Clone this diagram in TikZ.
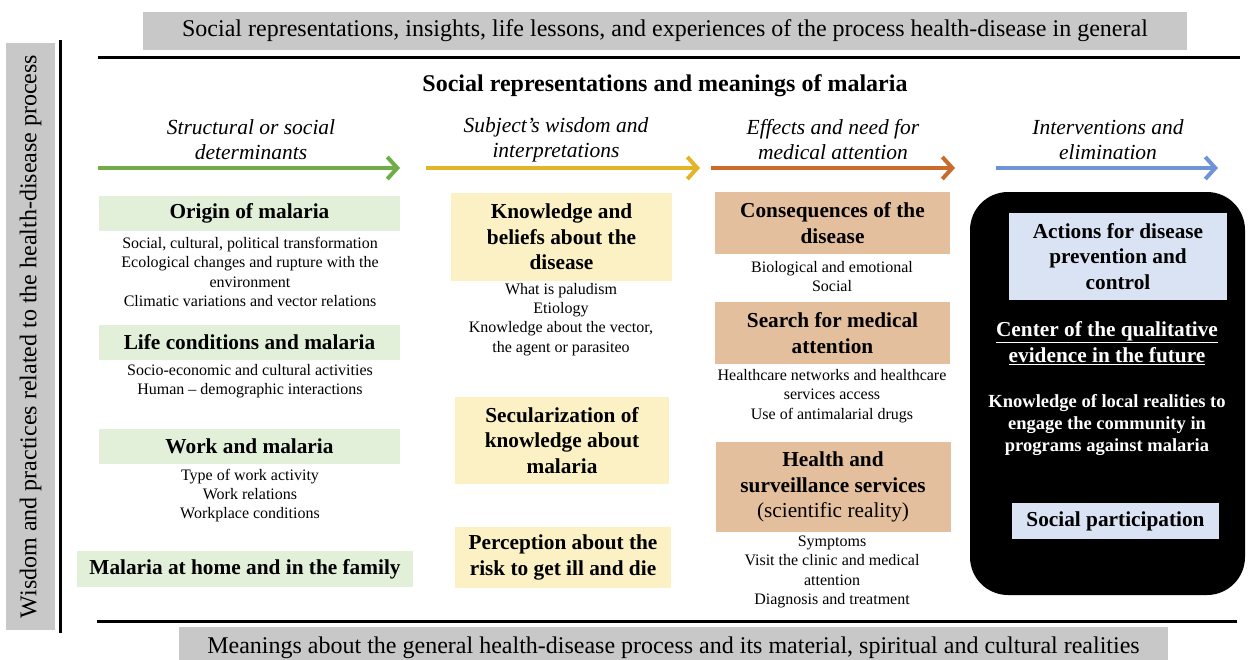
\documentclass[tikz,border=0pt]{standalone}
\usepackage{fontspec}
\setmainfont{Liberation Serif}
\usepackage[usenames,dvipsnames]{xcolor}
\usepackage{tikz}
\usetikzlibrary{arrows.meta}
\definecolor{bargray}{RGB}{200,200,200}
\definecolor{gboxc}{RGB}{226,239,217}
\definecolor{yboxc}{RGB}{251,241,196}
\definecolor{oboxc}{RGB}{228,191,158}
\definecolor{bboxc}{RGB}{218,227,243}
\definecolor{garrow}{RGB}{112,173,71}
\definecolor{yarrow}{RGB}{228,180,40}
\definecolor{oarrow}{RGB}{200,107,45}
\definecolor{barrow}{RGB}{112,146,214}
\newcommand{\bodytxt}{\fontsize{16}{19.3}\selectfont}
\newcommand{\headtxt}{\fontsize{21.3}{25.5}\selectfont\bfseries}
\newcommand{\labtxt}{\fontsize{21.5}{25}\selectfont\itshape}
\newcommand{\bartxt}{\fontsize{24}{28}\selectfont}

\begin{document}
\begin{tikzpicture}[x=1pt,y=-1pt,
  txt/.style={font=\bodytxt,align=center,inner sep=0pt},
  hdr/.style={font=\headtxt,align=center,inner sep=0pt},
  lab/.style={font=\labtxt,align=center,inner sep=0pt},
  gbox/.style={hdr,fill=gboxc,minimum width=301pt,minimum height=35pt},
  ybox/.style={hdr,fill=yboxc},
  obox/.style={hdr,fill=oboxc,minimum width=235pt},
  bbox/.style={hdr,fill=bboxc},
  band/.style={font=\bartxt,fill=bargray,inner sep=0pt},
  rule/.style={line width=3pt},
  flow/.style={line width=4pt,-{Straight Barb[length=10pt,width=22pt]}}]
  \useasboundingbox (0,0) rectangle (1248,659);

  % frame
  \node [band,minimum width=1044pt,minimum height=38pt] (top) at (665,31)
    {Social representations, insights, life lessons, and experiences of the process health-disease in general};
  \node [band,minimum width=989pt,minimum height=42pt,anchor=north] (bottom) at (673.5,627)
    {\raisebox{-4pt}{Meanings about the general health-disease process and its material, spiritual and cultural realities}};
  \node [band,minimum width=587pt,minimum height=49pt,rotate=90] (side) at (30.5,336.5)
    {Wisdom and practices related to the health-disease process};
  \draw [rule] (98,57) -- (1240,57);
  \draw [rule] (97,621) -- (1237,621);
  \draw [rule] (60,40) -- (60,633);

  \node [font=\fontsize{24}{28}\selectfont\bfseries] (title) at (665,86)
    {Social representations and meanings of malaria};

  % column labels and arrows
  \node [lab] (L1) at (251,139.5) {Structural or social\\determinants};
  \node [lab] (L2) at (556,139.5) {Subject's wisdom and\\interpretations};
  \node [lab] (L3) at (833,139.5) {Effects and need for\\medical attention};
  \node [lab] (L4) at (1108,139.5) {Interventions and\\elimination};
  \coordinate (gA) at (98,168);  \coordinate (gB) at (400,168);
  \coordinate (yA) at (426,168); \coordinate (yB) at (700,168);
  \coordinate (oA) at (711,168); \coordinate (oB) at (955,168);
  \coordinate (bA) at (996,168); \coordinate (bB) at (1218,168);
  \draw [flow,garrow] (gA) -- (gB);
  \draw [flow,yarrow] (yA) -- (yB);
  \draw [flow,oarrow] (oA) -- (oB);
  \draw [flow,barrow] (bA) -- (bB);

  % structural or social determinants
  \node [gbox] (origin) at (249.5,213.5) {Origin of malaria};
  \node [txt] (originT) at (250,272) {Social, cultural, political transformation\\Ecological changes and rupture with the\\environment\\Climatic variations and vector relations};
  \node [gbox] (life) at (249.5,342.5) {Life conditions and malaria};
  \node [txt] (lifeT) at (250,381.5) {Socio-economic and cultural activities\\Human -- demographic interactions};
  \node [gbox] (work) at (249.5,446.5) {Work and malaria};
  \node [txt] (workT) at (250,495.5) {Type of work activity\\Work relations\\Workplace conditions};
  \node [gbox,minimum width=336pt,minimum height=36pt] (home) at (245,569) {Malaria at home and in the family};

  % subject's wisdom
  \node [ybox,minimum width=221pt,minimum height=88pt] (beliefs) at (561.5,237) {Knowledge and\\beliefs about the\\disease};
  \node [txt] (beliefsT) at (561,319.5) {What is paludism\\Etiology\\Knowledge about the vector,\\the agent or parasiteo};
  \node [ybox,minimum width=214pt,minimum height=87pt] (secular) at (562,440.5) {Secularization of\\knowledge about\\malaria};
  \node [ybox,minimum width=216pt,minimum height=61pt] (risk) at (563,557.5) {Perception about the\\risk to get ill and die};

  % effects and medical attention
  \node [obox,minimum height=62pt] (conseq) at (832.5,223) {Consequences of the\\disease};
  \node [txt] (conseqT) at (832,276.5) {Biological and emotional\\Social};
  \node [obox,minimum height=62pt] (search) at (832.5,333) {Search for medical\\attention};
  \node [txt] (searchT) at (832,396) {Healthcare networks and healthcare\\services access\\Use of antimalarial drugs};
  \node [obox,minimum height=90pt] (services) at (833,487) {Health and\\surveillance services\\{\mdseries (scientific reality)}};
  \node [txt] (servicesT) at (832,572) {Symptoms\\Visit the clinic and medical\\attention\\Diagnosis and treatment};

  % interventions and elimination
  \fill [black,rounded corners=38pt] (970,192) rectangle (1245,595);
  \node [bbox,minimum width=218pt,minimum height=87pt] (actions) at (1118,256.5) {Actions for disease\\prevention and\\control};
  \node [hdr,text=white] (future) at (1107,343) {\underline{Center of the qualitative}\\\underline{evidence in the future}};
  \node [font=\fontsize{18.5}{22}\selectfont\bfseries,align=center,inner sep=0pt,text=white] (local) at (1107,425)
    {Knowledge of local realities to\\engage the community in\\programs against malaria};
  \node [bbox,minimum width=207pt,minimum height=36pt] (partic) at (1115.5,521) {Social participation};
\end{tikzpicture}
\end{document}
